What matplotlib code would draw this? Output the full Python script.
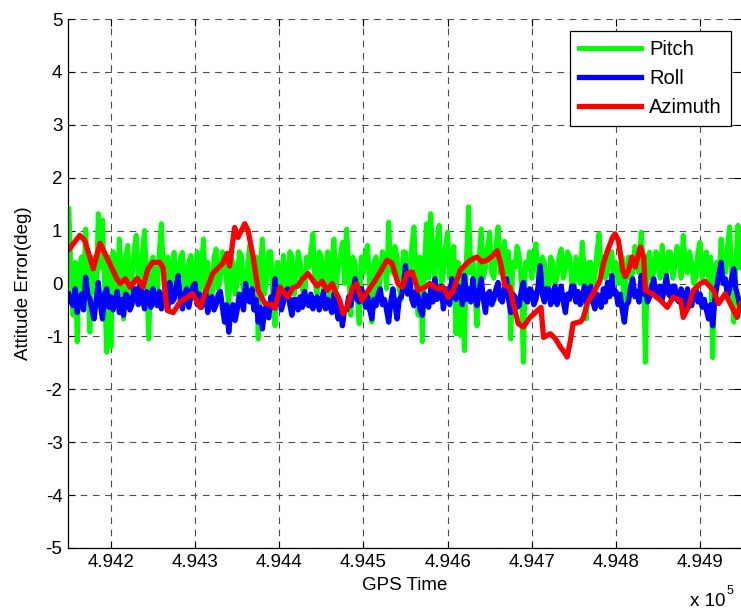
import numpy as np
import matplotlib
matplotlib.use("Agg")
from matplotlib import pyplot as plt

plt.rcParams['font.family'] = ['Liberation Sans', 'DejaVu Sans']
plt.rcParams['font.size'] = 13

# GPS time axis for pitch / roll (2.5 s sampling)
gps_time = np.arange(494150, 494950, 2.5)

pitch = [
    1.41, 0.2, -0.6, 0.4, -1.1, 0.3, 0.5, -0.3, 1.03, 0.1, -0.92, 0.5, 0.4, -0.2, 1.32, 0.3, 1.2, -0.1, -1.3, 0.5,
    -1.2, 0.6, 0.3, -0.3, 0.84, 0.2, -0.67, 0.5, 0.72, -0.2, 0.1, 0.6, 0.91, 0.2, -0.3, 0.6, 1.0, 0.0, -1.05, 0.4,
    0.5, -0.3, -0.2, 0.6, 1.13, 0.2, -0.4, 0.5, 0.3, -0.3, 0.59, -0.2, 0.0, 0.5, 0.59, -0.1, -0.35, 0.4, 0.53, -0.2,
    0.2, 0.6, -0.4, 0.3, 0.84, -0.2, 0.4, -0.3, -0.3, 0.5, 0.65, -0.1, 0.1, 0.6, 0.47, 0.0, -0.45, 0.5, 0.4, -0.2,
    0.0, 0.6, 0.53, -0.2, -0.3, 0.4, 0.72, -0.1, 0.2, 0.5, -1.05, 0.3, 0.84, -0.2, 0.1, 0.6, 0.6, -0.3, -0.8, 0.4,
    0.3, -0.3, 0.53, 0.0, -0.3, 0.6, 0.5, -0.2, 0.1, 0.6, 0.4, -0.1, -0.4, 0.5, 0.3, 0.6, 0.94, 0.0, -0.2, 0.6,
    0.5, -0.2, 0.2, 0.6, -0.4, 0.4, 0.84, -0.1, 0.3, 0.5, 0.78, 0.0, 1.03, 0.3, -0.6, 0.5, 0.4, -0.2, -0.76, 0.5,
    0.2, 0.6, 0.72, -0.1, -0.73, 0.4, 0.5, -0.2, 0.1, 0.6, 0.53, -0.1, 1.16, 0.3, 0.2, 0.7, 0.5, -0.1, -0.3, 0.6,
    0.59, -0.2, 0.1, 0.7, 1.07, 0.2, -0.6, 0.5, -1.1, 0.3, 1.13, 0.1, 1.32, 0.4, 0.1, 0.8, 1.1, -0.1, 0.2, 0.7,
    0.97, 0.1, 0.3, 0.7, -0.95, 0.4, -0.98, 0.3, -1.27, 0.5, 1.45, 0.2, 0.5, -0.2, -0.8, 0.5, 1.03, 0.1, 0.3, 0.7,
    0.97, 0.2, 0.1, 0.7, 1.07, 0.2, 0.4, 0.8, 0.2, 0.6, -1.05, 0.4, 0.3, 0.7, 0.53, 0.0, -1.49, 0.4, 0.3, 0.6,
    0.1, 0.5, 0.75, 0.1, 0.2, 0.5, 0.4, -0.1, -0.2, 0.5, 0.4, 0.0, 0.1, 0.5, 0.65, 0.1, 0.3, 0.6, 0.5, 0.0,
    -0.1, 0.5, 0.4, 0.0, 0.78, 0.2, -0.67, 0.4, 0.4, 0.0, 0.1, 0.6, 0.94, 0.2, 0.5, 0.1, 0.2, 0.6, 0.6, 0.1,
    0.4, 0.0, 0.1, 0.5, -0.73, 0.3, 0.5, 0.1, 0.2, 0.7, 0.6, 0.2, 0.97, 0.4, -1.49, 0.5, 0.59, 0.1, 0.2, 0.6,
    0.45, 0.1, 0.72, 0.2, 0.2, 0.6, 0.59, 0.1, 0.3, 0.7, 0.5, 0.1, 0.91, 0.3, 0.2, 0.6, 0.4, 0.0, 0.1, 0.6,
    0.78, 0.1, 0.3, 0.6, 0.1, 0.5, -1.4, 0.3, 0.4, 0.1, 0.84, 0.2, 0.2, 0.7, 1.07, 0.2, -0.73, 0.4, 1.1, 0.3,
]

roll = [
    -0.2, -0.35, -0.42, -0.1, -0.55, -0.3, -0.2, -0.5, 0.12, -0.2, -0.3, -0.5, -0.67, -0.3, 0.02, -0.4, -0.67, -0.2, -0.1, -0.45,
    -0.25, -0.5, -0.35, -0.15, -0.55, -0.3, -0.6, -0.2, -0.25, -0.5, -0.4, -0.1, -0.1, -0.4, 0.02, -0.3, -0.48, -0.15, -0.2, -0.45,
    -0.1, -0.35, -0.42, -0.15, -0.48, -0.2, -0.25, -0.5, 0.02, -0.35, -0.3, -0.05, 0.15, -0.3, -0.48, -0.2, -0.1, -0.45, -0.25, -0.05,
    0.0, -0.4, -0.2, -0.45, -0.35, -0.15, -0.55, -0.3, -0.25, -0.5, -0.4, -0.2, -0.15, -0.45, -0.73, -0.4, -0.92, -0.5, -0.4, -0.7,
    -0.5, -0.2, -0.25, -0.5, 0.0, -0.3, -0.35, -0.1, -0.5, -0.3, -0.73, -0.45, -0.86, -0.5, -0.42, -0.65, -0.25, -0.45, 0.09, -0.3,
    -0.2, -0.5, -0.35, -0.15, -0.1, -0.4, -0.6, -0.3, -0.3, -0.5, -0.25, -0.45, -0.15, -0.35, -0.42, -0.2, -0.48, -0.3, -0.25, -0.5,
    -0.35, -0.15, -0.48, -0.3, -0.42, -0.55, -0.2, -0.45, -0.67, -0.4, -0.8, -0.5, -0.5, -0.25, -0.42, -0.2, 0.09, -0.3, -0.35, -0.1,
    -0.2, -0.45, -0.25, -0.5, -0.67, -0.3, -0.42, -0.2, -0.1, -0.4, -0.3, -0.5, -0.73, -0.35, -0.1, -0.4, -0.67, -0.3, -0.25, -0.05,
    0.34, -0.2, 0.09, -0.3, -0.42, -0.15, -0.25, -0.5, -0.6, -0.2, -0.3, -0.45, -0.1, -0.35, 0.09, -0.3, -0.25, -0.05, -0.48, -0.2,
    -0.1, -0.4, 0.09, -0.25, -0.3, -0.05, -0.1, -0.4, 0.15, -0.3, -0.1, -0.35, 0.09, -0.25, -0.42, -0.15, 0.09, -0.3, -0.55, -0.2,
    -0.15, -0.4, -0.3, -0.1, 0.02, -0.3, -0.35, -0.1, 0.09, -0.3, -0.55, -0.2, -0.25, -0.45, -0.42, -0.15, 0.02, -0.3, -0.35, -0.1,
    -0.15, -0.4, -0.3, -0.05, 0.34, -0.2, -0.35, -0.1, -0.1, -0.4, -0.25, -0.05, -0.4, -0.2, -0.05, -0.35, -0.55, -0.2, -0.3, -0.05,
    -0.05, -0.35, -0.15, -0.4, -0.3, -0.05, -0.35, -0.1, -0.05, -0.35, -0.48, -0.2, -0.25, -0.45, -0.1, -0.35, 0.02, -0.25, 0.15, -0.2,
    -0.15, -0.4, -0.2, -0.5, -0.73, -0.4, -0.35, -0.05, 0.09, -0.25, -0.15, -0.35, 0.15, -0.2, -0.1, -0.35, -0.26, -0.05, 0.09, -0.25,
    -0.15, -0.05, -0.3, -0.1, 0.15, -0.2, -0.25, -0.05, -0.05, -0.3, -0.35, -0.1, -0.25, -0.45, -0.1, -0.3, -0.42, -0.15, -0.1, -0.35,
    -0.2, -0.45, -0.3, -0.5, -0.67, -0.4, -0.8, -0.3, -0.05, 0.2, 0.4, 0.0, 0.09, -0.25, -0.1, 0.1, 0.28, -0.1, -0.25, -0.45,
]

# azimuth is smoother, sampled at its own epochs
azimuth_time = [
    494151, 494163, 494169, 494179, 494187, 494195, 494207, 494211, 494217, 494223,
    494231, 494238, 494244, 494250, 494258, 494262, 494264, 494267, 494274, 494282,
    494290, 494297, 494306, 494314, 494321, 494333, 494338, 494341, 494347, 494351,
    494359, 494363, 494369, 494375, 494383, 494391, 494395, 494401, 494407, 494410,
    494416, 494422, 494427, 494434, 494445, 494451, 494457, 494463, 494466, 494472,
    494476, 494481, 494487, 494492, 494498, 494506, 494514, 494523, 494528, 494534,
    494541, 494546, 494552, 494558, 494565, 494573, 494579, 494588, 494595, 494601,
    494607, 494615, 494621, 494627, 494635, 494641, 494647, 494654, 494659, 494663,
    494668, 494674, 494678, 494684, 494690, 494698, 494707, 494711, 494714, 494722,
    494728, 494734, 494740, 494742, 494746, 494749, 494758, 494761, 494766, 494775,
    494781, 494785, 494790, 494796, 494799, 494803, 494808, 494811, 494815, 494819,
    494823, 494829, 494833, 494835, 494843, 494853, 494861, 494868, 494877, 494880,
    494886, 494892, 494900, 494906, 494912, 494916, 494922, 494930, 494940, 494944,
    494948,
]
azimuth = [
    0.66, 0.91, 0.81, 0.28, 0.76, 0.5, 0.09, 0.0, 0.09, -0.07,
    0.1, -0.07, 0.28, 0.40, 0.40, 0.3, -0.1, -0.51, -0.55, -0.35,
    -0.27, -0.19, -0.45, -0.1, 0.19, 0.38, 0.57, 0.33, 1.06, 0.87,
    1.13, 1.0, 0.5, -0.13, -0.38, -0.40, -0.47, -0.07, -0.2, -0.26,
    -0.08, -0.05, 0.07, 0.19, -0.05, 0.04, -0.13, 0.0, -0.13, -0.32,
    -0.57, -0.45, -0.08, 0.0, -0.32, -0.13, 0.06, 0.3, 0.44, 0.38,
    0.0, -0.07, 0.19, 0.22, -0.13, -0.07, 0.0, -0.1, -0.07, -0.26,
    -0.13, 0.25, 0.35, 0.44, 0.5, 0.41, 0.44, 0.53, 0.62, 0.38,
    -0.04, -0.07, -0.38, -0.76, -0.82, -0.64, -0.51, -0.45, -1.02, -0.95,
    -1.04, -1.2, -1.33, -1.39, -1.08, -0.76, -0.72, -0.66, -0.38, -0.13,
    0.06, 0.37, 0.62, 0.87, 0.94, 0.81, 0.25, 0.13, 0.25, 0.5,
    0.31, 0.69, 0.5, -0.13, -0.19, -0.32, -0.45, -0.26, -0.32, -0.64,
    -0.45, -0.13, 0.0, 0.04, -0.06, -0.13, -0.38, -0.19, -0.51, -0.64,
    -0.38,
]

x_ticks = [494200, 494300, 494400, 494500, 494600, 494700, 494800, 494900]
x_tick_labels = ['4.942', '4.943', '4.944', '4.945', '4.946', '4.947', '4.948', '4.949']
y_ticks = [-5, -4, -3, -2, -1, 0, 1, 2, 3, 4, 5]

fig = plt.figure(figsize=(7.41, 6.09), dpi=100)
ax = fig.add_axes([68 / 741, 61 / 609, 672.5 / 741, 529 / 609])

ax.plot(gps_time, pitch, color='#00ff00', lw=3.6, label='Pitch', solid_joinstyle='round')
ax.plot(gps_time, roll, color='#0000ff', lw=3.8, label='Roll', solid_joinstyle='round')
ax.plot(azimuth_time, azimuth, color='#ff0000', lw=3.8, label='Azimuth', solid_joinstyle='round')

ax.set_xlim(494149, 494948)
ax.set_ylim(-5, 5)
ax.set_xticks(x_ticks)
ax.set_xticklabels(x_tick_labels)
ax.set_yticks(y_ticks)
ax.set_yticklabels([str(v) for v in y_ticks])
ax.tick_params(direction='in', length=5, width=0.8, top=True, right=True,
               labelsize=13.5, pad=4)

ax.grid(True, color='0.3', linestyle=(0, (6, 5)), lw=0.8)
for side in ['top', 'right']:
    ax.spines[side].set_visible(False)
for side in ['left', 'bottom']:
    ax.spines[side].set_linewidth(0.9)

ax.set_xlabel('GPS Time', fontsize=13.5, labelpad=5)
ax.set_ylabel('Attitude Error(deg)', fontsize=13.5, labelpad=10)

fig.text(690 / 741, 1 - 601 / 609, 'x 10', fontsize=13.5, va='center', ha='left')
fig.text(727 / 741, 1 - 591 / 609, '5', fontsize=9, va='center', ha='left')

leg = ax.legend(loc='upper right', bbox_to_anchor=((731 - 68) / 672.5, (548 - 31) / 529),
                borderaxespad=0, fancybox=False, framealpha=1, edgecolor='black',
                handlelength=3.1, handletextpad=0.4, labelspacing=0.5, borderpad=0.45,
                fontsize=14.5)
leg.get_frame().set_linewidth(0.9)

fig.savefig('out.png', dpi=100)
